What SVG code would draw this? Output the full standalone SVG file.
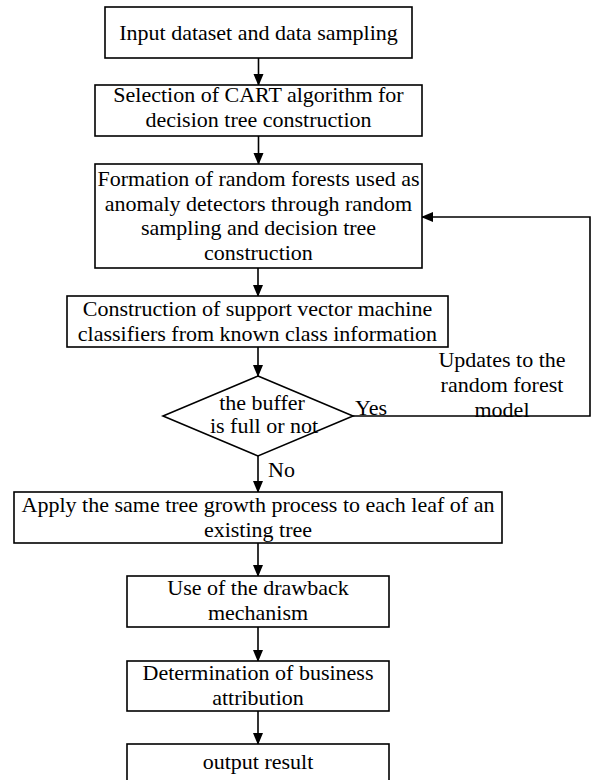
<svg xmlns="http://www.w3.org/2000/svg" width="593" height="780" viewBox="0 0 593 780">
<style>
.box{fill:#fff;stroke:#000;stroke-width:1.6}
.t{font-family:"Liberation Serif","Times New Roman",serif;font-size:22px;fill:#000;text-anchor:middle}
.tl{font-family:"Liberation Serif","Times New Roman",serif;font-size:22px;fill:#000}
.c{fill:none;stroke:#000;stroke-width:1.6}
</style>
<defs>
<marker id="ah" markerWidth="12" markerHeight="12" refX="11" refY="5" orient="auto" markerUnits="userSpaceOnUse" viewBox="0 0 12 10">
<path d="M0,0 L12,5 L0,10 Z" fill="#000"/>
</marker>
</defs>
<rect width="593" height="780" fill="#fff"/>
<g id="connectors">
<line class="c" x1="258.5" y1="58" x2="258.5" y2="85" marker-end="url(#ah)"/>
<line class="c" x1="258.5" y1="136" x2="258.5" y2="164" marker-end="url(#ah)"/>
<line class="c" x1="258" y1="268" x2="258" y2="296" marker-end="url(#ah)"/>
<line class="c" x1="258" y1="347" x2="258" y2="376" marker-end="url(#ah)"/>
<line class="c" x1="258" y1="456" x2="258" y2="492" marker-end="url(#ah)"/>
<line class="c" x1="258" y1="543" x2="258" y2="576" marker-end="url(#ah)"/>
<line class="c" x1="258" y1="627" x2="258" y2="661" marker-end="url(#ah)"/>
<line class="c" x1="258" y1="711" x2="258" y2="744" marker-end="url(#ah)"/>
<polyline class="c" points="353,416 590,416 590,217 422,217" marker-end="url(#ah)"/>
<text class="tl" x="355" y="415">Yes</text>
<text class="tl" x="268" y="477">No</text>
<text class="t" x="502" y="367">Updates to the</text>
<text class="t" x="502" y="392">random forest</text>
<text class="t" x="502" y="417">model</text>
</g>
<g id="n1">
<rect class="box" x="105" y="7" width="307" height="51"/>
<text class="t" x="258.5" y="40">Input dataset and data sampling</text>
</g>
<g id="n2">
<rect class="box" x="95" y="85" width="327" height="51"/>
<text class="t" x="258.5" y="102">Selection of CART algorithm for</text>
<text class="t" x="258.5" y="127">decision tree construction</text>
</g>
<g id="n3">
<rect class="box" x="95" y="164" width="327" height="104"/>
<text class="t" x="258.5" y="186">Formation of random forests used as</text>
<text class="t" x="258.5" y="210.5">anomaly detectors through random</text>
<text class="t" x="258.5" y="235">sampling and decision tree</text>
<text class="t" x="258.5" y="259.5">construction</text>
</g>
<g id="n4">
<rect class="box" x="67" y="296" width="381" height="51"/>
<text class="t" x="257.5" y="316">Construction of support vector machine</text>
<text class="t" x="257.5" y="341">classifiers from known class information</text>
</g>
<g id="n5">
<polygon class="box" points="258,376 353,416 258,456 163,416"/>
<text class="t" x="262" y="410">the buffer</text>
<text class="t" x="264" y="433">is full or not</text>
</g>
<g id="n6">
<rect class="box" x="14" y="492" width="488" height="51"/>
<text class="t" x="258" y="512">Apply the same tree growth process to each leaf of an</text>
<text class="t" x="258" y="537">existing tree</text>
</g>
<g id="n7">
<rect class="box" x="127" y="576" width="262" height="51"/>
<text class="t" x="258" y="595">Use of the drawback</text>
<text class="t" x="258" y="620">mechanism</text>
</g>
<g id="n8">
<rect class="box" x="127" y="661" width="262" height="50"/>
<text class="t" x="258" y="680">Determination of business</text>
<text class="t" x="258" y="705">attribution</text>
</g>
<g id="n9">
<rect class="box" x="127" y="744" width="262" height="51"/>
<text class="t" x="258" y="769">output result</text>
</g>
</svg>
